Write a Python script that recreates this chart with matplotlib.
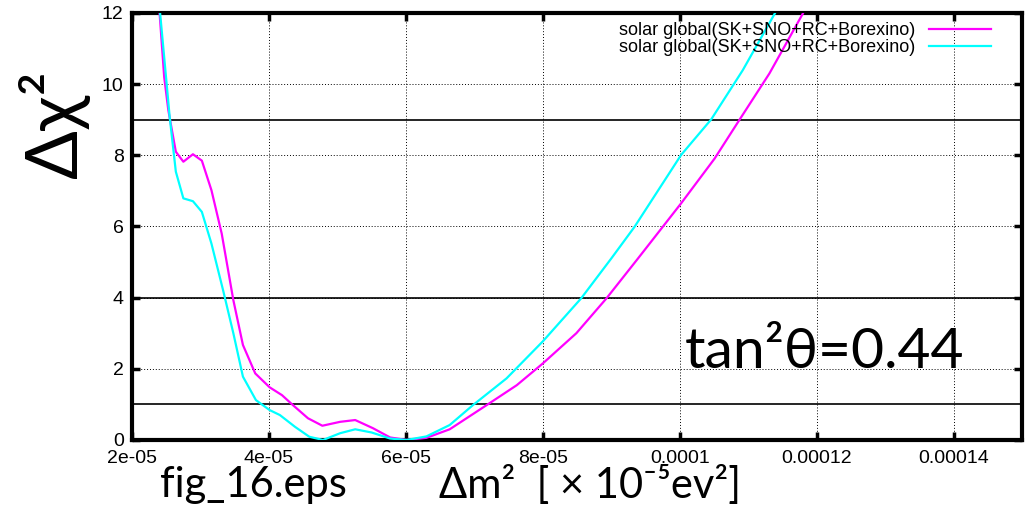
import numpy as np
import matplotlib
matplotlib.use('Agg')
import matplotlib.pyplot as plt

# ------------------------------------------------------------------
# data (x in units of 1e-5 eV^2)
# ------------------------------------------------------------------
magenta_x = [2.38, 2.47, 2.53, 2.64, 2.75, 2.89, 3.02, 3.16, 3.31, 3.48, 3.62, 3.80,
             4.01, 4.19, 4.35, 4.57, 4.78, 5.04, 5.26, 5.52, 5.77, 6.01, 6.30, 6.64,
             7.18, 7.62, 8.00, 8.49, 8.93, 9.39, 10.02, 10.51, 10.87, 11.31, 11.80, 11.85]
magenta_y = [12.6, 10.2, 9.27, 8.10, 7.82, 8.03, 7.85, 7.02, 5.80, 3.93, 2.67, 1.87,
             1.48, 1.26, 0.98, 0.61, 0.40, 0.51, 0.56, 0.33, 0.07, 0.00, 0.06, 0.30,
             0.98, 1.54, 2.15, 3.00, 3.98, 5.10, 6.65, 7.91, 8.99, 10.30, 11.99, 12.2]

cyan_x = [2.38, 2.41, 2.51, 2.55, 2.64, 2.75, 2.89, 3.02, 3.16, 3.33, 3.48, 3.62,
          3.81, 4.01, 4.16, 4.38, 4.59, 4.79, 5.04, 5.26, 5.50, 5.77, 6.01, 6.30,
          6.64, 6.98, 7.47, 8.00, 8.56, 9.00, 9.34, 10.02, 10.46, 10.92, 11.39, 11.45]
cyan_y = [12.6, 12.0, 9.92, 9.08, 7.54, 6.79, 6.71, 6.41, 5.52, 4.21, 3.00, 1.78,
          1.12, 0.84, 0.70, 0.37, 0.09, 0.00, 0.19, 0.30, 0.21, 0.04, 0.00, 0.10,
          0.42, 0.98, 1.73, 2.77, 3.98, 5.10, 5.99, 8.01, 9.01, 10.39, 11.99, 12.2]

x_ticks = [2e-05, 4e-05, 6e-05, 8e-05, 1e-04, 1.2e-04, 1.4e-04]
x_tick_labels = ['2e-05', '4e-05', '6e-05', '8e-05', '0.0001', '0.00012', '0.00014']
y_ticks = [0, 2, 4, 6, 8, 10, 12]
ref_levels = [1, 4, 9]
legend_label = 'solar global(SK+SNO+RC+Borexino)'

# ------------------------------------------------------------------
# plot
# ------------------------------------------------------------------
big_font = ['Lato', 'Noto Sans', 'DejaVu Sans']
plt.rcParams['font.family'] = ['Liberation Sans', 'DejaVu Sans']

fig = plt.figure(figsize=(10.33, 5.17), dpi=100)
ax = fig.add_axes([0.1278, 0.149, 0.8616, 0.8259])

mx = np.array(magenta_x) * 1e-5
cx = np.array(cyan_x) * 1e-5
ax.plot(mx, magenta_y, color='#ff00ff', lw=1.6, label=legend_label, zorder=3)
ax.plot(cx, cyan_y, color='#00ffff', lw=1.6, label=legend_label, zorder=3)

for lev in ref_levels:
    ax.axhline(lev, color='black', lw=1.2, zorder=2)

ax.set_xlim(2e-05, 1.5e-04)
ax.set_ylim(0, 12)
ax.set_xticks(x_ticks)
ax.set_xticklabels(x_tick_labels)
ax.set_yticks(y_ticks)
ax.grid(True, color='black', ls=(0, (1, 2)), lw=0.7)
ax.tick_params(direction='in', length=6, width=2.5, top=True, right=True,
               labelsize=14)
ax.tick_params(axis='x', pad=7)
ax.tick_params(axis='y', pad=6)
for sp in ax.spines.values():
    sp.set_linewidth(3)

ax.legend(loc='upper right', frameon=False, markerfirst=False, fontsize=13,
          handlelength=3.4, borderaxespad=0.1, labelspacing=0.0,
          handletextpad=0.8, bbox_to_anchor=(0.975, 1.0))

# big annotation texts
fig.text(0.052, 0.76, 'Δχ²', rotation=90, fontsize=52, family=big_font,
         ha='center', va='center')
ax.text(1.007e-04, 2.45, 'tan²θ=0.44', fontsize=41, family=big_font,
        ha='left', va='center')
fig.text(0.155, 0.062, 'fig_16.eps', fontsize=30, family=big_font,
         ha='left', va='center')
fig.text(0.425, 0.062, 'Δm²  [ × 10⁻⁵ev²]', fontsize=30, family=big_font,
         ha='left', va='center')

fig.savefig('out.png', dpi=100)
